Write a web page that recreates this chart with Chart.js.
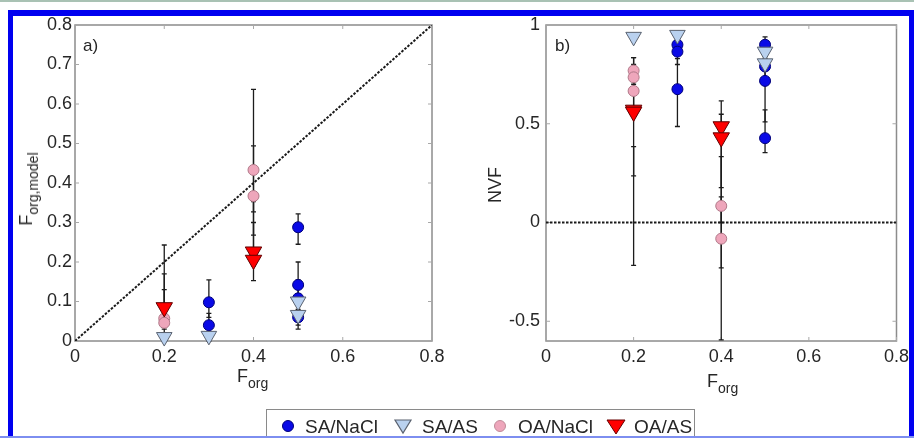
<!DOCTYPE html>
<html>
<head>
<meta charset="utf-8">
<script src="https://cdn.jsdelivr.net/npm/chart.js@4.4.0/dist/chart.umd.min.js"></script>
<style>
  body { margin: 0; width: 914px; height: 438px; overflow: hidden; position: relative; background: #fff;
         font-family: "Liberation Sans", Arial, sans-serif; color: #262626; }
  canvas { position: absolute; top: 0; }
  .bar { position: absolute; background: #0000f0; z-index: 5; }
  .lbl { position: absolute; white-space: nowrap; line-height: 1; }
  .sub { font-size: 14px; position: relative; top: 6px; }
  .rot { transform: translate(-50%, -50%) rotate(-90deg); }
  #legend { position: absolute; left: 266px; top: 409px; width: 427px; height: 34px; border: 1px solid #8a8a8a;
            background: #fff; font-size: 19px; z-index: 4; }
  #legend span, #legend svg { position: absolute; }
</style>
</head>
<body>
<div style="position:absolute;left:0;top:0;width:914px;height:2px;background:#a9c2b4"></div>
<div class="bar" style="left:8px;top:10px;width:906px;height:6px"></div>
<div class="bar" style="left:8px;top:10px;width:5px;height:428px"></div>
<div class="bar" style="left:909px;top:10px;width:5px;height:428px"></div>
<div style="position:absolute;left:0;top:436px;width:914px;height:2px;background:#7d8ef0;z-index:6"></div>

<canvas id="chartA" width="450" height="371" style="left:0"></canvas>
<canvas id="chartB" width="454" height="371" style="left:460px"></canvas>

<div class="lbl" style="left:83px;top:37px;font-size:17px">a)</div>
<div class="lbl" style="left:555px;top:37px;font-size:17px">b)</div>
<div class="lbl" style="left:237px;top:367px;font-size:18px">F<span class="sub">org</span></div>
<div class="lbl" style="left:707px;top:372px;font-size:18px">F<span class="sub">org</span></div>
<div class="lbl rot" style="left:26px;top:189px;font-size:18px">F<span class="sub">org,model</span></div>
<div class="lbl rot" style="left:495px;top:185px;font-size:18px">NVF</div>

<div id="legend">
  <svg style="left:13px;top:8px" width="16" height="16"><circle cx="8" cy="8" r="5.5" fill="#0a0ae6" stroke="#00007a" stroke-width="1"/></svg>
  <span style="left:38px;top:6px">SA/NaCl</span>
  <svg style="left:126px;top:6px" width="20" height="20"><polygon points="2,4 18,4 10,17" fill="#b9d1ef" stroke="#5a6270" stroke-width="1.2"/></svg>
  <span style="left:155px;top:6px">SA/AS</span>
  <svg style="left:225px;top:8px" width="16" height="16"><circle cx="8" cy="8" r="5.5" fill="#eea6bb" stroke="#c08a98" stroke-width="1"/></svg>
  <span style="left:251px;top:6px">OA/NaCl</span>
  <svg style="left:339px;top:6px" width="20" height="20"><polygon points="1,4 19,4 10,18" fill="#ff0000" stroke="#600" stroke-width="1"/></svg>
  <span style="left:367px;top:6px">OA/AS</span>
</div>

<script>
// axis ticks
const xTicks = [0, 0.2, 0.4, 0.6, 0.8];
const yTicksA = [0, 0.1, 0.2, 0.3, 0.4, 0.5, 0.6, 0.7, 0.8];
const yTicksB = [-0.5, 0, 0.5, 1];

// panel a) : [Forg, Forg,model, error low, error high]
const saNaclA = [[0.3, 0.098, 0.06, 0.155], [0.3, 0.040, 0.02, 0.07], [0.5, 0.288, 0.245, 0.322],
                 [0.5, 0.142, 0.10, 0.20], [0.5, 0.108, 0.07, 0.155], [0.5, 0.060, 0.03, 0.09]];
const saAsA = [[0.2, 0.010, 0.0, 0.02], [0.3, 0.013, 0.0, 0.03], [0.5, 0.100, 0.08, 0.12], [0.5, 0.066, 0.04, 0.09]];
const oaNaclA = [[0.2, 0.057, 0.03, 0.17], [0.2, 0.046, 0.02, 0.13], [0.4, 0.433, 0.268, 0.637], [0.4, 0.367, 0.327, 0.494]];
const oaAsA = [[0.2, 0.085, 0.04, 0.243], [0.4, 0.226, 0.19, 0.353], [0.4, 0.205, 0.153, 0.30]];

// panel b) : [Forg, NVF, error low, error high]
const saNaclB = [[0.3, 0.90, 0.86, 0.95], [0.3, 0.865, 0.80, 0.92], [0.3, 0.675, 0.486, 0.83],
                 [0.5, 0.90, 0.86, 0.94], [0.5, 0.79, 0.72, 0.86], [0.5, 0.717, 0.51, 0.90], [0.5, 0.427, 0.354, 0.57]];
const saAsB = [[0.2, 0.94, null, null], [0.3, 0.95, null, null], [0.5, 0.865, 0.83, 0.90], [0.5, 0.806, 0.77, 0.84]];
const oaNaclB = [[0.2, 0.769, 0.70, 0.835], [0.2, 0.735, 0.66, 0.80], [0.2, 0.666, 0.56, 0.77],
                 [0.4, 0.084, -0.23, 0.334], [0.4, -0.082, -0.594, 0.13]];
const oaAsB = [[0.2, 0.57, -0.217, 0.835], [0.2, 0.56, 0.236, 0.384], [0.4, 0.486, 0.177, 0.616], [0.4, 0.43, 0.0, 0.548]];

// reference lines
const diagX = [0, 0.8], diagY = [0, 0.8];
const zeroX = [0, 0.8], zeroY = [0, 0];

const tickFont = { family: '"Liberation Sans", Arial, sans-serif', size: 18 };

function markerSet(rows, kind) {
  const styles = {
    saNacl: { pointStyle: 'circle', radius: 5.5, bg: '#0a0ae6', border: '#00007a', rot: 0 },
    saAs:   { pointStyle: 'triangle', radius: 9, bg: '#b9d1ef', border: '#5a6270', rot: 180 },
    oaNacl: { pointStyle: 'circle', radius: 5.5, bg: '#eea6bb', border: '#b07888', rot: 0 },
    oaAs:   { pointStyle: 'triangle', radius: 9.5, bg: '#ff0000', border: '#600000', rot: 180 }
  };
  const s = styles[kind];
  return {
    type: 'scatter',
    data: rows.map(r => ({ x: r[0], y: r[1] })),
    err: rows.map(r => [r[2], r[3]]),
    pointStyle: s.pointStyle,
    pointRadius: s.radius,
    pointRotation: s.rot,
    backgroundColor: s.bg,
    borderColor: s.border,
    pointBorderWidth: 1,
    clip: false
  };
}

function refLine(xs, ys) {
  return {
    type: 'line',
    data: xs.map((v, i) => ({ x: v, y: ys[i] })),
    borderColor: '#1a1a1a',
    borderWidth: 2,
    borderDash: [2.5, 1.5],
    pointRadius: 0,
    fill: false
  };
}

// error bars drawn under the markers
const errorBars = {
  id: 'errorBars',
  beforeDatasetsDraw(chart) {
    const { ctx, scales: { x, y } } = chart;
    ctx.save();
    ctx.strokeStyle = '#1c1c1c';
    ctx.lineWidth = 1.3;
    chart.data.datasets.forEach(ds => {
      if (!ds.err) return;
      ds.data.forEach((p, i) => {
        const [lo, hi] = ds.err[i];
        if (lo == null) return;
        const px = x.getPixelForValue(p.x);
        const y1 = y.getPixelForValue(lo), y2 = y.getPixelForValue(hi);
        ctx.beginPath();
        ctx.moveTo(px, y1); ctx.lineTo(px, y2);
        ctx.moveTo(px - 2.5, y1); ctx.lineTo(px + 2.5, y1);
        ctx.moveTo(px - 2.5, y2); ctx.lineTo(px + 2.5, y2);
        ctx.stroke();
      });
    });
    ctx.restore();
  }
};

// box around the axes with inward ticks, matlab style
const frame = {
  id: 'frame',
  beforeDatasetsDraw(chart) {
    const { ctx, chartArea: a, scales: { x, y } } = chart;
    ctx.save();
    ctx.strokeStyle = '#8c8c8c';
    ctx.lineWidth = 1.5;
    ctx.strokeRect(a.left, a.top, a.right - a.left, a.bottom - a.top);
    ctx.lineWidth = 1;
    ctx.strokeStyle = '#a8a8a8';
    ctx.beginPath();
    x.ticks.forEach(t => {
      const px = x.getPixelForValue(t.value);
      ctx.moveTo(px, a.bottom); ctx.lineTo(px, a.bottom - 4);
      ctx.moveTo(px, a.top); ctx.lineTo(px, a.top + 4);
    });
    y.ticks.forEach(t => {
      const py = y.getPixelForValue(t.value);
      ctx.moveTo(a.left, py); ctx.lineTo(a.left + 4, py);
      ctx.moveTo(a.right, py); ctx.lineTo(a.right - 4, py);
    });
    ctx.stroke();
    ctx.restore();
  }
};

function makeChart(id, datasets, yTicks, yMin, yMax, yWidth, yPad, rightPad) {
  return new Chart(document.getElementById(id), {
    data: { datasets: datasets },
    options: {
      responsive: false,
      animation: false,
      layout: { padding: { left: 0, top: 25, right: rightPad, bottom: 0 } },
      plugins: { legend: { display: false }, tooltip: { enabled: false } },
      scales: {
        x: {
          type: 'linear', min: 0, max: 0.8,
          afterBuildTicks: s => { s.ticks = xTicks.map(v => ({ value: v })); },
          afterFit: s => { s.height = 30; },
          ticks: { font: tickFont, color: '#262626', padding: 5, callback: v => String(v) },
          grid: { display: false, drawTicks: false },
          border: { display: false }
        },
        y: {
          type: 'linear', min: yMin, max: yMax,
          afterBuildTicks: s => { s.ticks = yTicks.map(v => ({ value: v })); },
          afterFit: s => { s.width = yWidth; },
          ticks: { font: tickFont, color: '#262626', padding: yPad, callback: v => String(v) },
          grid: { display: false, drawTicks: false },
          border: { display: false }
        }
      }
    },
    plugins: [frame, errorBars]
  });
}

makeChart('chartA', [
  markerSet(oaAsA, 'oaAs'),
  markerSet(oaNaclA, 'oaNacl'),
  markerSet(saAsA, 'saAs'),
  markerSet(saNaclA, 'saNacl'),
  refLine(diagX, diagY)
], yTicksA, 0, 0.8, 75, 3, 18);

makeChart('chartB', [
  markerSet(oaAsB, 'oaAs'),
  markerSet(oaNaclB, 'oaNacl'),
  markerSet(saAsB, 'saAs'),
  markerSet(saNaclB, 'saNacl'),
  refLine(zeroX, zeroY)
], yTicksB, -0.6, 1, 86, 6, 11);
</script>
</body>
</html>
